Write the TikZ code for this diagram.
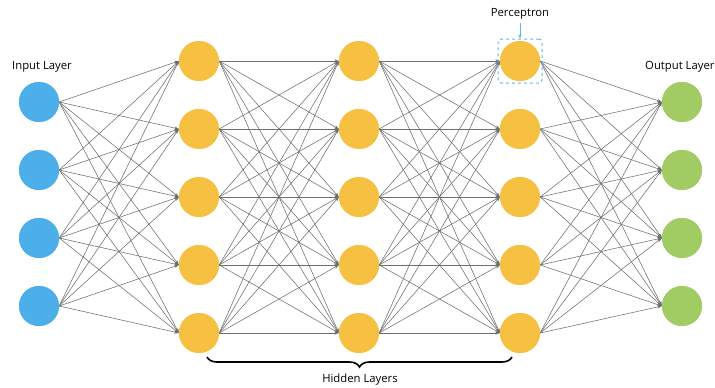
\documentclass[tikz,border=0pt]{standalone}
\usepackage{fontspec}
\setmainfont{Open Sans}
\usetikzlibrary{arrows.meta,decorations.pathreplacing}
\definecolor{inblue}{RGB}{77,175,234}
\definecolor{hidyel}{RGB}{246,192,67}
\definecolor{outgrn}{RGB}{160,204,99}
\definecolor{edgegray}{RGB}{110,110,110}
\definecolor{boxblue}{RGB}{90,185,235}
\tikzset{
  neuron/.style={circle,minimum size=40pt,inner sep=0pt},
  inneuron/.style={neuron,fill=inblue},
  hidneuron/.style={neuron,fill=hidyel},
  outneuron/.style={neuron,fill=outgrn},
  conn/.style={draw=edgegray,line width=0.55pt,-{Stealth[length=4.5pt,width=3.2pt]}},
  lbl/.style={font=\fontsize{11.3pt}{13pt}\selectfont,inner sep=0pt}
}
\begin{document}
\begin{tikzpicture}[x=1pt,y=-1pt]
\useasboundingbox (0,0) rectangle (715,388);
% nodes
\foreach \i/\y in {1/102,2/170,3/238,4/306}{
  \node[inneuron] (i\i) at (39,\y) {};
  \node[outneuron] (o\i) at (682,\y) {};
}
\foreach \j/\y in {1/61,2/129,3/197,4/265,5/333}{
  \node[hidneuron] (a\j) at (199,\y) {};
  \node[hidneuron] (b\j) at (359,\y) {};
  \node[hidneuron] (c\j) at (520,\y) {};
}
% edges
\foreach \i in {1,...,4}{\foreach \j in {1,...,5}{\draw[conn] (i\i.east) -- (a\j.west);}}
\foreach \i in {1,...,5}{\foreach \j in {1,...,5}{
  \draw[conn] (a\i.east) -- (b\j.west);
  \draw[conn] (b\i.east) -- (c\j.west);}}
\foreach \i in {1,...,5}{\foreach \j in {1,...,4}{\draw[conn] (c\i.east) -- (o\j.west);}}
% redraw node discs on top of the connectors
\foreach \i/\y in {1/102,2/170,3/238,4/306}{
  \fill[inblue] (39,\y) circle (20);
  \fill[outgrn] (682,\y) circle (20);
}
\foreach \y in {61,129,197,265,333}{
  \fill[hidyel] (199,\y) circle (20);
  \fill[hidyel] (359,\y) circle (20);
  \fill[hidyel] (520,\y) circle (20);
}
% perceptron box
\node[draw=boxblue,dashed,line width=1pt,rounded corners=3pt,minimum size=44pt,inner sep=0pt] (pbox) at (520,61) {};
\node[lbl] (ptext) at (520,14) {Perceptron};
\draw[boxblue,line width=0.7pt,-{Stealth[length=4pt,width=3.5pt]}] ([yshift=-3pt]ptext.south) -- (pbox.north);
% labels
\node[lbl] (inlabel) at (42,67) {Input Layer};
\node[lbl,anchor=west] (outlabel) at (645,67) {Output Layer};
% brace
\draw[decorate,decoration={brace,mirror,amplitude=10pt},line width=1.6pt] (207,357) coordinate (bl) -- (512,357) coordinate (br);
\node[lbl] (hlabel) at (360,380) {Hidden Layers};
\end{tikzpicture}
\end{document}
